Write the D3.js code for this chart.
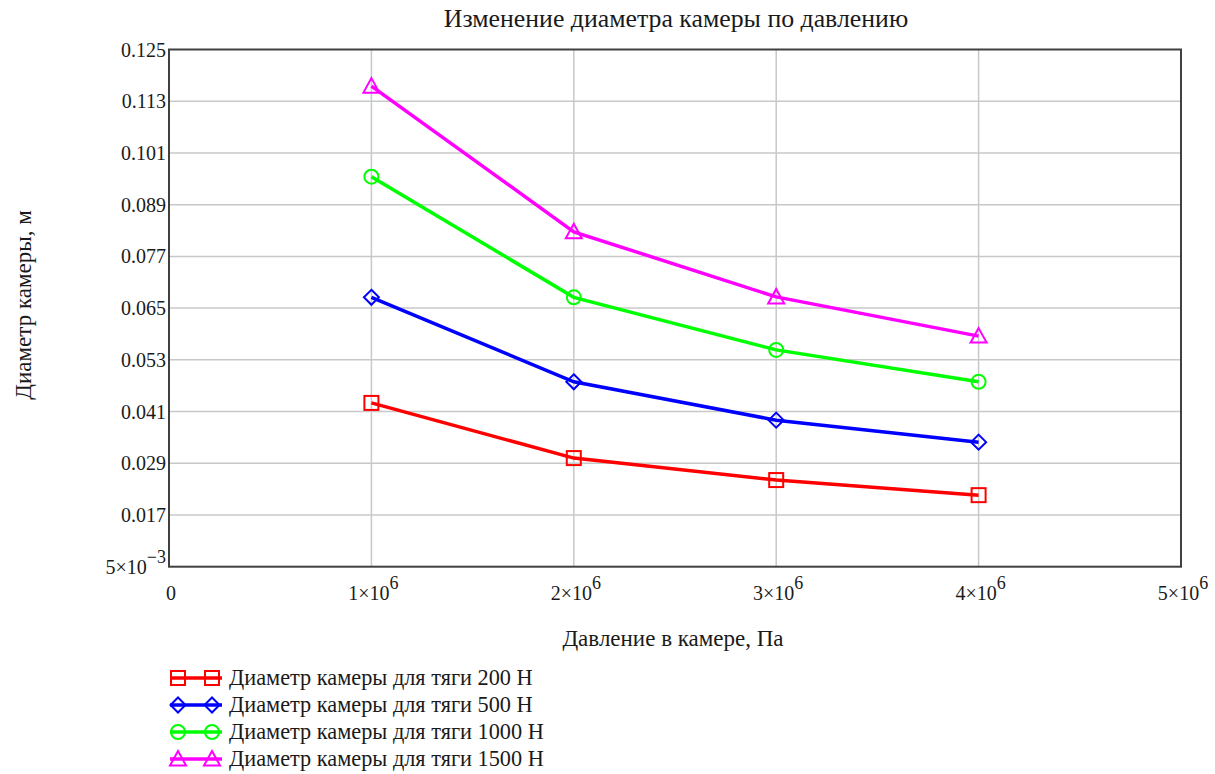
<!DOCTYPE html>
<html><head><meta charset="utf-8">
<script src="https://cdn.jsdelivr.net/npm/d3@7"></script>
<style>
html,body{margin:0;padding:0;background:#fff;}
text{font-family:"Liberation Serif","Times New Roman",serif;fill:#1a1a1a;}
</style></head>
<body>
<svg id="chart" width="1215" height="774"></svg>
<script>
const pressures = [1e6, 2e6, 3e6, 4e6];
const d200  = [0.0430, 0.0302, 0.0251, 0.0216];
const d500  = [0.0675, 0.0479, 0.0390, 0.0339];
const d1000 = [0.0955, 0.0675, 0.0553, 0.0479];
const d1500 = [0.1165, 0.0827, 0.0676, 0.0585];
const seriesNames = ["Диаметр камеры для тяги 200 Н","Диаметр камеры для тяги 500 Н","Диаметр камеры для тяги 1000 Н","Диаметр камеры для тяги 1500 Н"];
const seriesColors = ["#ff0000","#0000ff","#00ff00","#ff00ff"];
const seriesMarkers = ["square","diamond","circle","triangle"];
const yTicks = [0.005,0.017,0.029,0.041,0.053,0.065,0.077,0.089,0.101,0.113,0.125];
const yTickLabels = ["5×10|−3","0.017","0.029","0.041","0.053","0.065","0.077","0.089","0.101","0.113","0.125"];
const xTicks = [0,1e6,2e6,3e6,4e6,5e6];
const xTickLabels = ["0","1×10|6","2×10|6","3×10|6","4×10|6","5×10|6"];
const title = "Изменение диаметра камеры по давлению";
const xTitle = "Давление в камере, Па";
const yTitle = "Диаметр камеры, м";

const allSeries = [d200,d500,d1000,d1500];
const svg = d3.select("#chart");
const L=169, R=1181, T=49.5, B=566.7;
const x = d3.scaleLinear().domain([0,5e6]).range([L,R]);
const y = d3.scaleLinear().domain([0.005,0.125]).range([B,T]);

// grid
svg.append("g").selectAll("line").data(xTicks.slice(1,-1)).join("line")
  .attr("x1",d=>x(d)).attr("x2",d=>x(d)).attr("y1",T).attr("y2",B)
  .attr("stroke","#c8c8c8").attr("stroke-width",1.5);
svg.append("g").selectAll("line").data(yTicks.slice(1,-1)).join("line")
  .attr("x1",L).attr("x2",R).attr("y1",d=>y(d)).attr("y2",d=>y(d))
  .attr("stroke","#c8c8c8").attr("stroke-width",1.5);

// frame
svg.append("rect").attr("x",L).attr("y",T).attr("width",R-L).attr("height",B-T)
  .attr("fill","none").attr("stroke","#404040").attr("stroke-width",2);

function labelWithSup(sel, str, supSize){
  const parts = str.split("|");
  sel.append("tspan").text(parts[0]);
  if(parts[1]) sel.append("tspan").attr("dy",-11).attr("font-size",supSize).text(parts[1]);
}

// y tick labels
yTicks.forEach((v,i)=>{
  const t = svg.append("text").attr("x",166).attr("y",y(v)+7)
    .attr("text-anchor","end").attr("font-size",20);
  labelWithSup(t, yTickLabels[i], 18);
});
// x tick labels
xTicks.forEach((v,i)=>{
  const t = svg.append("text").attr("x",x(v)+2).attr("y",600)
    .attr("text-anchor","middle").attr("font-size",20);
  labelWithSup(t, xTickLabels[i], 18);
});

// titles
svg.append("text").attr("x",676).attr("y",27).attr("text-anchor","middle").attr("font-size",25.8).text(title);
svg.append("text").attr("x",673).attr("y",646).attr("text-anchor","middle").attr("font-size",23).text(xTitle);
svg.append("text").attr("transform","translate(31,305) rotate(-90)").attr("text-anchor","middle").attr("font-size",23).text(yTitle);

function drawMarker(g, type, cx, cy, color){
  const s = 7;
  if(type==="square") g.append("rect").attr("x",cx-s).attr("y",cy-s).attr("width",2*s).attr("height",2*s);
  else if(type==="diamond") g.append("path").attr("d",`M${cx},${cy-7.5}L${cx+7.5},${cy}L${cx},${cy+7.5}L${cx-7.5},${cy}Z`);
  else if(type==="circle") g.append("circle").attr("cx",cx).attr("cy",cy).attr("r",7);
  else g.append("path").attr("d",`M${cx},${cy-8}L${cx+8},${cy+6.5}L${cx-8},${cy+6.5}Z`);
  g.selectAll("*").attr("fill","none").attr("stroke",color).attr("stroke-width",2);
}

const line = d3.line().x((d,i)=>x(pressures[i])).y(d=>y(d));
allSeries.forEach((s,k)=>{
  svg.append("path").datum(s).attr("d",line).attr("fill","none")
    .attr("stroke",seriesColors[k]).attr("stroke-width",3.5);
  s.forEach((v,i)=>{
    const g = svg.append("g");
    drawMarker(g, seriesMarkers[k], x(pressures[i]), y(v), seriesColors[k]);
  });
});

// legend
const legY = [678,705,732,759];
seriesNames.forEach((n,k)=>{
  svg.append("line").attr("x1",170).attr("x2",222).attr("y1",legY[k]).attr("y2",legY[k])
    .attr("stroke",seriesColors[k]).attr("stroke-width",3.5);
  [178,212].forEach(cx=>{ const g=svg.append("g"); drawMarker(g, seriesMarkers[k], cx, legY[k], seriesColors[k]); });
  svg.append("text").attr("x",229).attr("y",legY[k]+7).attr("font-size",22.3).text(n);
});
</script>
</body></html>
